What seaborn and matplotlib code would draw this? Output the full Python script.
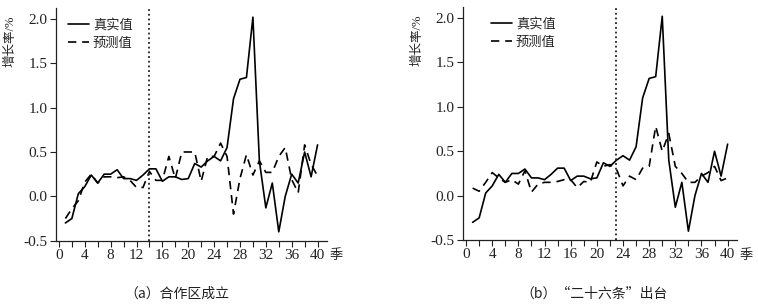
import numpy as np
import pandas as pd
import matplotlib
matplotlib.use("Agg")
import matplotlib.pyplot as plt
from matplotlib.ticker import MultipleLocator
import seaborn as sns

# quarters 1..40
quarters = list(range(1, 41))

# actual growth rate (same in both panels)
real = [-0.30, -0.25, 0.03, 0.11, 0.24, 0.15, 0.25, 0.25, 0.30, 0.20,
        0.20, 0.18, 0.24, 0.31, 0.31, 0.17, 0.22, 0.22, 0.19, 0.20,
        0.37, 0.33, 0.40, 0.45, 0.40, 0.55, 1.10, 1.32, 1.34, 2.02,
        0.40, -0.13, 0.15, -0.40, 0.00, 0.25, 0.15, 0.50, 0.22, 0.58]

# predicted, panel (a) break at quarter 14
pred_a = [-0.25, -0.14, -0.05, 0.16, 0.25, 0.15, 0.22, 0.22, 0.21, 0.22,
          0.18, 0.10, 0.10, 0.28, 0.18, 0.18, 0.45, 0.20, 0.50, 0.50,
          0.50, 0.17, 0.45, 0.45, 0.60, 0.45, -0.20, 0.20, 0.47, 0.24,
          0.40, 0.27, 0.27, 0.45, 0.55, 0.19, 0.04, 0.58, 0.36, 0.23]

# predicted, panel (b) break at quarter 23
pred_b = [0.085, 0.05, 0.15, 0.26, 0.20, 0.15, 0.18, 0.13, 0.28, 0.04,
          0.13, 0.15, 0.15, 0.16, 0.18, 0.18, 0.09, 0.16, 0.15, 0.38,
          0.33, 0.35, 0.30, 0.11, 0.22, 0.18, 0.31, 0.33, 0.78, 0.50,
          0.70, 0.33, 0.25, 0.15, 0.15, 0.22, 0.26, 0.33, 0.17, 0.20]

breaks = [14, 23]
captions = ["（a）合作区成立", "（b）“二十六条”出台"]

sns.set_theme(style="ticks")
plt.rcParams["font.family"] = ["Liberation Serif", "Noto Sans CJK SC"]
plt.rcParams["axes.unicode_minus"] = True

fig = plt.figure(figsize=(7.58, 3.07), dpi=100)
ax_a = fig.add_axes([0.0739, 0.216, 0.357, 0.757])
ax_b = fig.add_axes([0.611, 0.218, 0.361, 0.758])

ink = "#222222"
for ax, pred, brk, cap, cx, lgx in [(ax_a, pred_a, breaks[0], captions[0], 0.233, 0.044),
                                    (ax_b, pred_b, breaks[1], captions[1], 0.784, 0.101)]:
    df = pd.DataFrame({"季度": quarters, "真实值": real, "预测值": pred})
    sns.lineplot(data=df, x="季度", y="真实值", ax=ax, color="black", lw=1.2, label="真实值")
    sns.lineplot(data=df, x="季度", y="预测值", ax=ax, color="black", lw=1.2,
                 label="预测值").lines[-1].set_dashes((5, 3.5))
    ax.axvline(brk, color=ink, ls=(0, (1, 1.6)), lw=1.3)

    ax.set_xlim(-0.45, 41.4)
    ax.set_ylim(-0.5, 2.12)
    ax.xaxis.set_major_locator(MultipleLocator(4))
    ax.xaxis.set_minor_locator(MultipleLocator(2))
    ax.yaxis.set_major_locator(MultipleLocator(0.5))
    ax.yaxis.set_major_formatter(matplotlib.ticker.FormatStrFormatter("%.1f"))
    ax.tick_params(which="both", direction="out", length=4, width=0.8, colors=ink,
                   labelsize=11, pad=2)
    sns.despine(ax=ax)
    for s in ["left", "bottom"]:
        ax.spines[s].set_color(ink)
        ax.spines[s].set_linewidth(0.9)

    ax.set_xlabel("")
    ax.set_ylabel("增长率/%", fontsize=9, color=ink)
    ax.yaxis.set_label_coords(-0.145, 0.86)
    ax.text(1.035, -0.066, "季", transform=ax.transAxes, ha="center", va="center",
            fontsize=9.5, color=ink)

    leg = ax.legend(loc="upper left", bbox_to_anchor=(lgx, 0.955), frameon=False,
                    borderpad=0, borderaxespad=0, handlelength=1.6, handletextpad=0.3,
                    labelspacing=0.45, prop={"size": 9.5})
    for t in leg.get_texts():
        t.set_color(ink)

    fig.text(cx, 0.042, cap, ha="center", va="center", fontsize=10, color=ink,
             family=["Noto Sans CJK SC", "Liberation Serif"])

fig.savefig("out.png", dpi=100)
